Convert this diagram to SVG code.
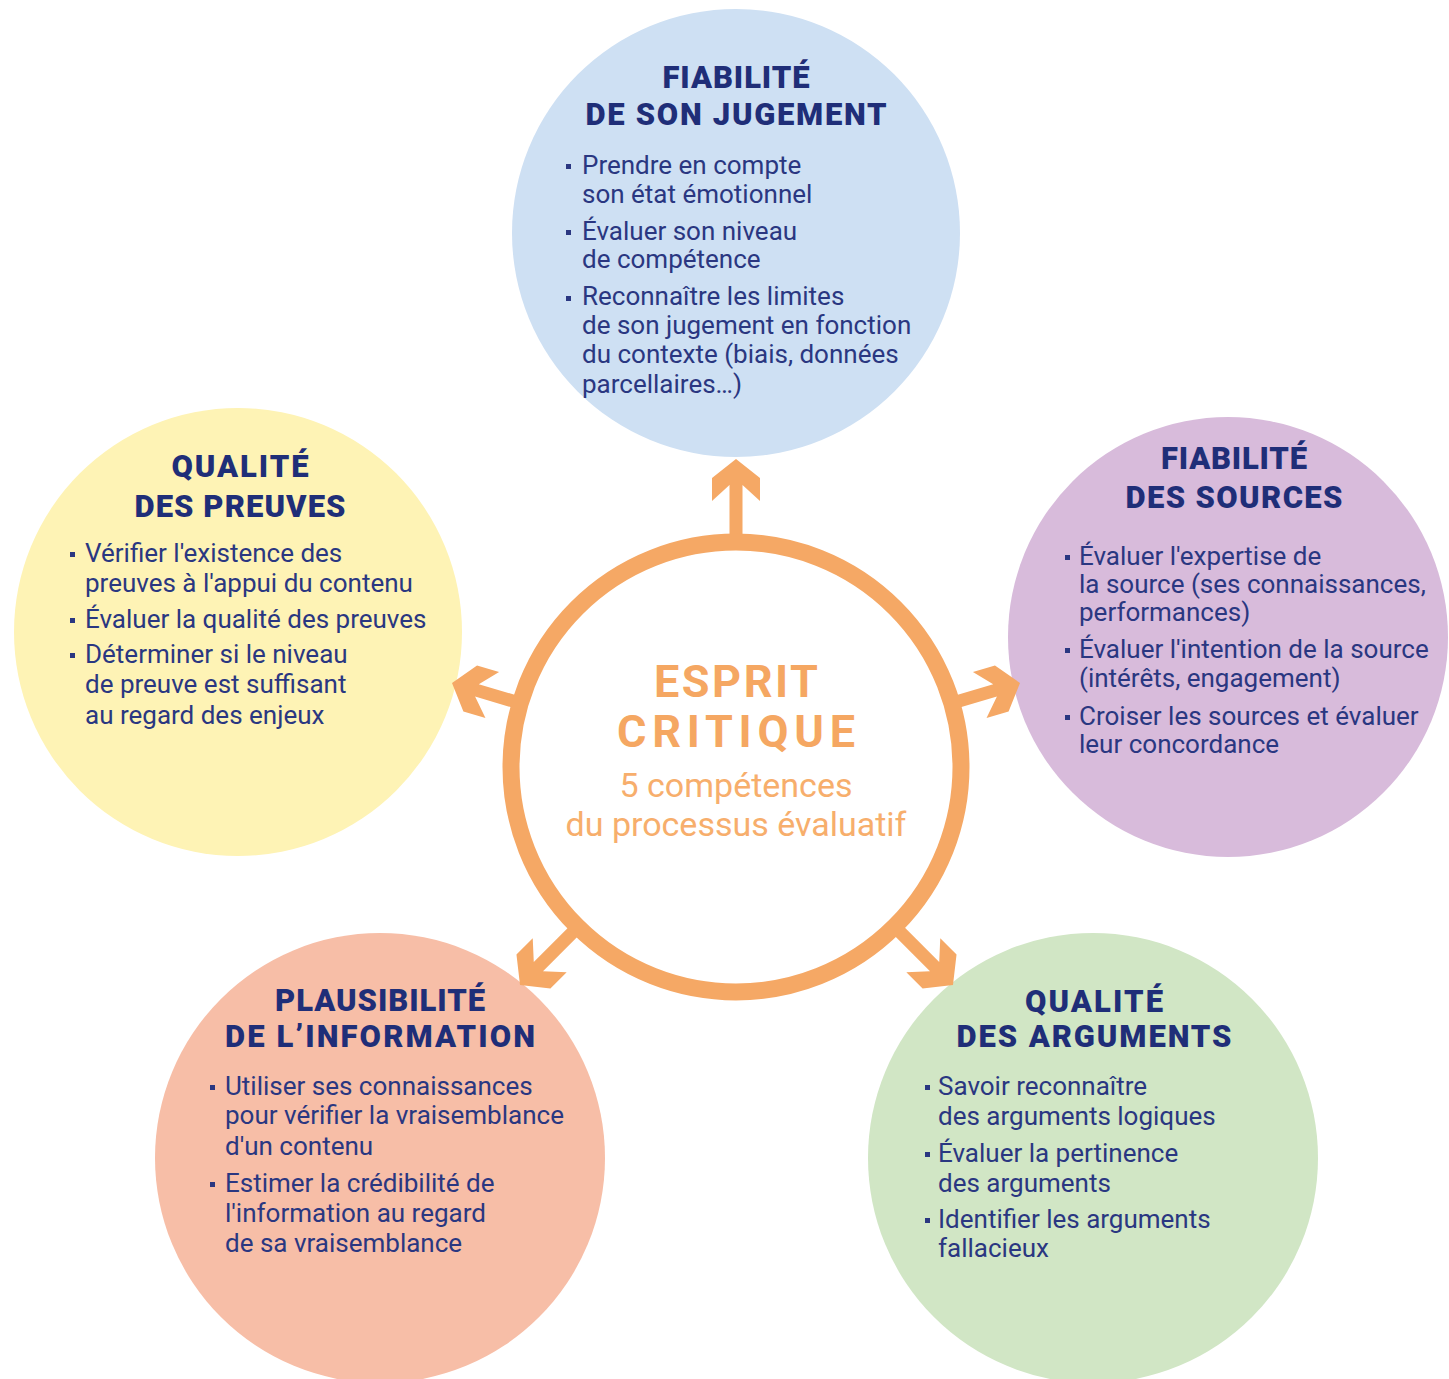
<svg xmlns="http://www.w3.org/2000/svg" xmlns:xlink="http://www.w3.org/1999/xlink" width="1449" height="1379" viewBox="0 0 1449 1379">
<style>
.title{font-family:Roboto,"Liberation Sans",sans-serif;font-weight:900;font-size:31px;fill:#1F2E78;text-anchor:middle}
.body{font-family:Roboto,"Liberation Sans",sans-serif;font-size:26px;fill:#2A3781}
.bul{fill:#2A3781}
.arrow{fill:#F5A865}
.ctitle{font-family:Roboto,"Liberation Sans",sans-serif;font-weight:700;font-size:45px;fill:#F5A762;text-anchor:middle}
.csub{font-family:Roboto,"Liberation Sans",sans-serif;font-size:34px;fill:#F7AE6C;text-anchor:middle}
</style>
<defs>
<polygon id="arr" points="0,0 24,19 24,42 6.5,26 6.5,85 -6.5,85 -6.5,26 -24,42 -24,19"/>
</defs>
<rect width="1449" height="1379" fill="#FFFFFF"/>

<g id="node-jugement">
<circle cx="736" cy="233" r="224" fill="#CEE0F3"/>
<text class="title" x="736" y="88" textLength="147">FIABILITÉ</text>
<text class="title" x="736" y="125" textLength="301">DE SON JUGEMENT</text>
<rect class="bul" x="566" y="164" width="5" height="5"/>
<rect class="bul" x="566" y="230" width="5" height="5"/>
<rect class="bul" x="566" y="296" width="5" height="5"/>
<text class="body" x="582" y="174">Prendre en compte</text>
<text class="body" x="582" y="203">son état émotionnel</text>
<text class="body" x="582" y="240">Évaluer son niveau</text>
<text class="body" x="582" y="268">de compétence</text>
<text class="body" x="582" y="305">Reconnaître les limites</text>
<text class="body" x="582" y="334">de son jugement en fonction</text>
<text class="body" x="582" y="363">du contexte (biais, données</text>
<text class="body" x="582" y="393">parcellaires…)</text>
</g>

<g id="node-sources">
<circle cx="1228" cy="637" r="220" fill="#D8BBDB"/>
<text class="title" x="1234" y="469" textLength="146">FIABILITÉ</text>
<text class="title" x="1234" y="508" textLength="217">DES SOURCES</text>
<rect class="bul" x="1065" y="555" width="5" height="5"/>
<rect class="bul" x="1065" y="648" width="5" height="5"/>
<rect class="bul" x="1065" y="715" width="5" height="5"/>
<text class="body" x="1079" y="565">Évaluer l'expertise de</text>
<text class="body" x="1079" y="593">la source (ses connaissances,</text>
<text class="body" x="1079" y="621">performances)</text>
<text class="body" x="1079" y="658">Évaluer l'intention de la source</text>
<text class="body" x="1079" y="687">(intérêts, engagement)</text>
<text class="body" x="1079" y="725">Croiser les sources et évaluer</text>
<text class="body" x="1079" y="753">leur concordance</text>
</g>

<g id="node-preuves">
<circle cx="238" cy="632" r="224" fill="#FEF3B5"/>
<text class="title" x="240" y="477" textLength="137">QUALITÉ</text>
<text class="title" x="240" y="517" textLength="211">DES PREUVES</text>
<rect class="bul" x="70" y="552" width="5" height="5"/>
<rect class="bul" x="70" y="618" width="5" height="5"/>
<rect class="bul" x="70" y="653" width="5" height="5"/>
<text class="body" x="85" y="562">Vérifier l'existence des</text>
<text class="body" x="85" y="592">preuves à l'appui du contenu</text>
<text class="body" x="85" y="628">Évaluer la qualité des preuves</text>
<text class="body" x="85" y="663">Déterminer si le niveau</text>
<text class="body" x="85" y="693">de preuve est suffisant</text>
<text class="body" x="85" y="724">au regard des enjeux</text>
</g>

<g id="node-plausibilite">
<circle cx="380" cy="1158" r="225" fill="#F7BEA7"/>
<text class="title" x="380" y="1011" textLength="210">PLAUSIBILITÉ</text>
<text class="title" x="380" y="1047" textLength="310">DE L’INFORMATION</text>
<rect class="bul" x="210" y="1085" width="5" height="5"/>
<rect class="bul" x="210" y="1182" width="5" height="5"/>
<text class="body" x="225" y="1095">Utiliser ses connaissances</text>
<text class="body" x="225" y="1124">pour vérifier la vraisemblance</text>
<text class="body" x="225" y="1155">d'un contenu</text>
<text class="body" x="225" y="1192">Estimer la crédibilité de</text>
<text class="body" x="225" y="1222">l'information au regard</text>
<text class="body" x="225" y="1252">de sa vraisemblance</text>
</g>

<g id="node-arguments">
<circle cx="1093" cy="1158" r="225" fill="#D1E6C5"/>
<text class="title" x="1094" y="1012" textLength="138">QUALITÉ</text>
<text class="title" x="1094" y="1047" textLength="275">DES ARGUMENTS</text>
<rect class="bul" x="925" y="1085" width="5" height="5"/>
<rect class="bul" x="925" y="1152" width="5" height="5"/>
<rect class="bul" x="925" y="1218" width="5" height="5"/>
<text class="body" x="938" y="1095">Savoir reconnaître</text>
<text class="body" x="938" y="1125">des arguments logiques</text>
<text class="body" x="938" y="1162">Évaluer la pertinence</text>
<text class="body" x="938" y="1192">des arguments</text>
<text class="body" x="938" y="1228">Identifier les arguments</text>
<text class="body" x="938" y="1257">fallacieux</text>
</g>

<g id="connectors">
<use xlink:href="#arr" href="#arr" class="arrow" transform="translate(736,459)"/>
<use xlink:href="#arr" href="#arr" class="arrow" transform="translate(1020,683) rotate(73.5)"/>
<use xlink:href="#arr" href="#arr" class="arrow" transform="translate(452,683) rotate(-73.5)"/>
<use xlink:href="#arr" href="#arr" class="arrow" transform="translate(953,985) rotate(135)"/>
<use xlink:href="#arr" href="#arr" class="arrow" transform="translate(520,985) rotate(-135)"/>
</g>

<g id="node-centre">
<circle cx="736" cy="767" r="225" fill="#FFFFFF" stroke="#F5A865" stroke-width="17"/>
<text class="ctitle" x="736" y="697" textLength="164">ESPRIT</text>
<text class="ctitle" x="736" y="747" textLength="238">CRITIQUE</text>
<text class="csub" x="736" y="797">5 compétences</text>
<text class="csub" x="736" y="836">du processus évaluatif</text>
</g>
</svg>
